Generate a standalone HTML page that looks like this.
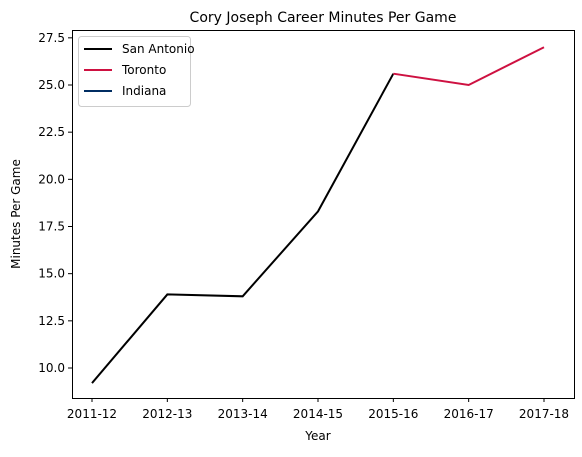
<!DOCTYPE html>
<html><head><meta charset="utf-8"><style>
body{margin:0;background:#fff;font-family:"DejaVu Sans","Liberation Sans",sans-serif;}
svg text{font-family:"DejaVu Sans","Liberation Sans",sans-serif;fill:#000;}
</style></head><body>
<svg id="c" width="582" height="453">
<text x="323" y="22" font-size="14" text-anchor="middle">Cory Joseph Career Minutes Per Game</text>
<text x="318" y="440" font-size="12" text-anchor="middle">Year</text>
<text transform="translate(20,214) rotate(-90)" font-size="12" text-anchor="middle">Minutes Per Game</text>
<g id="g"></g>
<rect x="72.5" y="30.5" width="502" height="368" fill="none" stroke="#000" stroke-width="1"/>
<g>
<rect x="78.5" y="36.5" width="112" height="70" rx="3" fill="#fff" stroke="#ccc"/>
<line x1="84" y1="49" x2="112" y2="49" stroke="#000" stroke-width="2"/>
<text x="122" y="53" font-size="12">San Antonio</text>
<line x1="84" y1="70" x2="112" y2="70" stroke="#CE1141" stroke-width="2"/>
<text x="122" y="74" font-size="12">Toronto</text>
<line x1="84" y1="91" x2="112" y2="91" stroke="#002D62" stroke-width="2"/>
<text x="122" y="95" font-size="12">Indiana</text>
</g>
</svg>
<script>
const categories=["2011-12","2012-13","2013-14","2014-15","2015-16","2016-17","2017-18"];
const sanAntonio=[9.2,13.9,13.8,18.3,25.6];
const toronto=[25.6,25.0,27.0];
const torontoStart=4;
const yTicks=[10.0,12.5,15.0,17.5,20.0,22.5,25.0,27.5];
const NS="http://www.w3.org/2000/svg";
const g=document.getElementById('g');
function xs(i){return 92+i*(544-92)/6;}
function ys(v){return 368-(v-10)*(368-85)/15;}
function el(t,a){const e=document.createElementNS(NS,t);for(const k in a)e.setAttribute(k,a[k]);g.appendChild(e);return e;}
categories.forEach((c,i)=>{
 const l=el('line',{x1:xs(i),x2:xs(i),y1:398,y2:402,stroke:'#000'});
 
 
 const t=el('text',{x:xs(i),y:418,'font-size':12,'text-anchor':'middle'});
 t.textContent=c;
 
 
});
yTicks.forEach(v=>{
 const l=el('line',{x1:68,x2:72,y1:ys(v),y2:ys(v),stroke:'#000'});
 
 
 const t=el('text',{x:65,y:ys(v)+4,'font-size':12,'text-anchor':'end'});
 t.textContent=v.toFixed(1);
 
 
});
const p1=el('polyline',{points:sanAntonio.map((v,i)=>xs(i)+','+ys(v)).join(' '),fill:'none',stroke:'#000','stroke-width':2});


const p2=el('polyline',{points:toronto.map((v,i)=>xs(i+torontoStart)+','+ys(v)).join(' '),fill:'none',stroke:'#CE1141','stroke-width':2});


</script>
</body></html>
